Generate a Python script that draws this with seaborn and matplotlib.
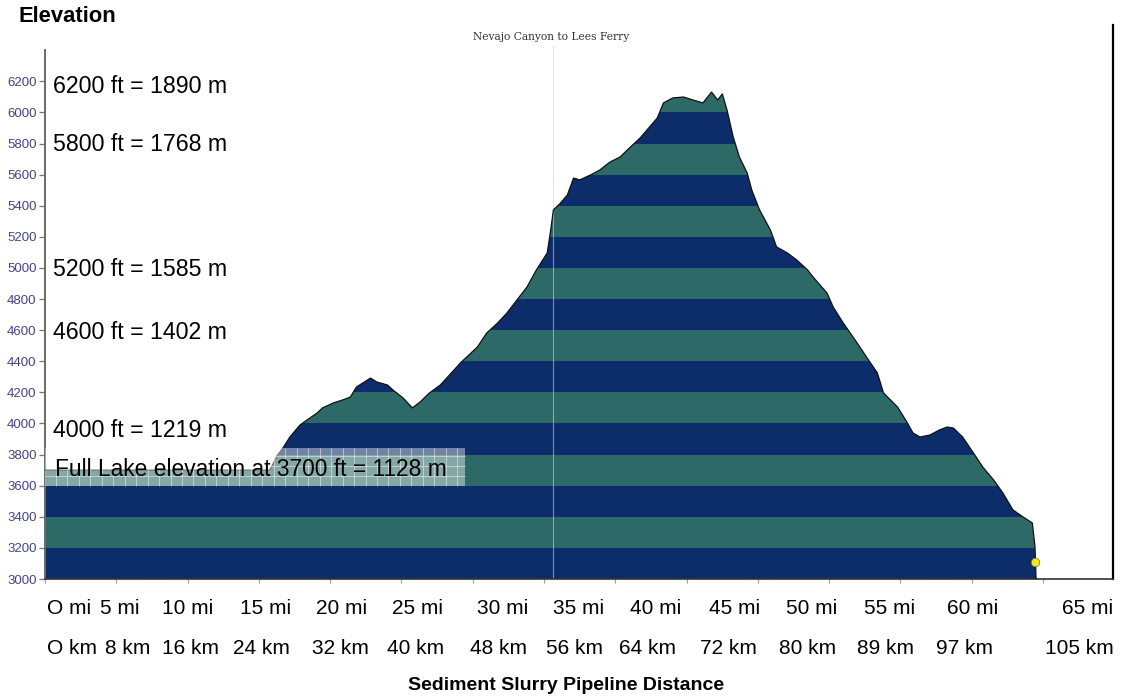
import numpy as np
import matplotlib
matplotlib.use('Agg')
import matplotlib.pyplot as plt
from matplotlib.patches import Polygon, Rectangle
import seaborn as sns

# elevation profile: distance (miles) vs elevation (feet)
distance_mi = [0.0, 14.5, 15.0, 15.35, 15.8, 16.45, 16.9, 17.55, 17.9, 18.6, 19.2, 19.7,
               20.1, 20.5, 21.0, 21.4, 22.1, 22.45, 23.1, 23.7, 24.2, 24.8, 25.5, 26.1,
               26.8, 27.9, 28.5, 29.2, 29.8, 30.45, 31.1, 31.7, 32.4, 32.6, 32.8, 33.2,
               33.7, 34.1, 34.5, 35.2, 35.8, 36.45, 37.1, 37.7, 38.4, 39.0, 39.5, 39.9,
               40.5, 41.2, 41.8, 42.45, 43.0, 43.4, 43.7, 44.0, 44.4, 44.8, 45.3, 45.6,
               46.1, 46.8, 47.2, 47.9, 48.5, 49.2, 49.55, 50.45, 50.85, 51.5, 52.4, 53.0,
               53.7, 54.1, 55.0, 55.6, 56.0, 56.45, 57.1, 57.7, 58.2, 58.6, 59.2, 59.9,
               60.5, 61.2, 61.8, 62.45, 63.1, 63.7, 63.87, 63.94]
elevation_ft = [3700, 3700, 3797, 3842, 3913, 3990, 4022, 4067, 4100, 4132, 4151, 4170,
                4235, 4260, 4292, 4267, 4247, 4215, 4164, 4100, 4138, 4196, 4247, 4312,
                4389, 4492, 4582, 4646, 4710, 4794, 4878, 4987, 5096, 5225, 5373, 5411,
                5469, 5578, 5566, 5598, 5630, 5681, 5713, 5771, 5836, 5906, 5964, 6061,
                6093, 6099, 6080, 6061, 6131, 6080, 6119, 6016, 5842, 5713, 5611, 5501,
                5373, 5244, 5135, 5096, 5051, 4987, 4942, 4839, 4749, 4646, 4517, 4427,
                4325, 4196, 4106, 4010, 3939, 3913, 3926, 3958, 3977, 3971, 3913, 3810,
                3720, 3637, 3553, 3444, 3399, 3360, 3206, 3000]

end_point_mi = [63.87]
end_point_ft = [3109]

lake_level_ft = 3700
band_colors = ['#0c2d6a', '#2d6a67']
band_edges = list(range(3000, 6400, 200))
ytick_values = list(range(3000, 6400, 200))

ft_notes = ['6200 ft = 1890 m', '5800 ft = 1768 m', '5200 ft = 1585 m',
            '4600 ft = 1402 m', '4000 ft = 1219 m']
lake_note = f'Full Lake elevation at {lake_level_ft} ft = 1128 m'
mi_labels = ['O mi', '5 mi', '10 mi', '15 mi', '20 mi', '25 mi', '30 mi', '35 mi',
             '40 mi', '45 mi', '50 mi', '55 mi', '60 mi', '65 mi']
km_labels = ['O km', '8 km', '16 km', '24 km', '32 km', '40 km', '48 km', '56 km',
             '64 km', '72 km', '80 km', '89 km', '97 km', '105 km']

# layout (pixels of the 1132x698 canvas)
W, H = 1132, 698
note_y_ft = [6164, 5791, 4987, 4588, 3958]
mi_left_px = [47, 100, 162, 240, 316, 392, 477, 553, 630, 709, 786, 864, 947, 1062]
km_left_px = [47, 105, 162, 233, 312, 387, 470, 546, 619, 700, 779, 857, 936, 1045]

sns.set_theme(style='white')
plt.rcParams['font.family'] = ['Liberation Sans', 'DejaVu Sans']
plt.rcParams['text.color'] = 'black'

fig = plt.figure(figsize=(W / 100, H / 100), dpi=100)
ax = fig.add_axes([45 / W, 119 / H, 1068 / W, 554 / H])
xmax = 1068 / 15.5
ax.set_xlim(0, xmax)
ax.set_ylim(3000, 6562)

# striped fill clipped to the profile
verts = np.column_stack([np.r_[distance_mi, distance_mi[::-1]],
                         np.r_[elevation_ft, np.full(len(elevation_ft), 3000)]])
clip = Polygon(verts, closed=True, transform=ax.transData)
for i, lo in enumerate(band_edges[:-1]):
    span = ax.axhspan(lo, lo + 200, color=band_colors[i % 2], lw=0, zorder=1)
    span.set_clip_path(clip)

sns.lineplot(x=distance_mi, y=elevation_ft, ax=ax, color='#111111', lw=0.9,
             sort=False, estimator=None, zorder=3)
sns.scatterplot(x=end_point_mi, y=end_point_ft, ax=ax, color='#f4e81c',
                edgecolor='#6b6b30', s=38, zorder=5)

ax.axvline((553 - 45) / 15.5, ymax=(6430 - 3000) / 3562, color='#cfcfcf',
           lw=0.8, alpha=0.6, zorder=2)

# lake label box
bx1 = (465 - 45) / 15.5
ax.add_patch(Rectangle((0, 3600), bx1, 242, facecolor='white', alpha=0.42,
                       lw=0, zorder=4))
ax.vlines(np.arange(0.7, bx1, 0.74), 3600, 3842, color='white', lw=0.6,
          alpha=0.55, zorder=4)
ax.hlines(np.arange(3664, 3842, 64), 0, bx1, color='white', lw=0.6,
          alpha=0.55, zorder=4)

tx = (53 - 45) / 15.5
for note, y in zip(ft_notes, note_y_ft):
    ax.text(tx, y, note, fontsize=16.7, ha='left', va='center', color='black', zorder=6)
ax.text((55 - 45) / 15.5, 3701, lake_note, fontsize=16.4, ha='left', va='center',
        color='black', zorder=6)

ax.set_yticks(ytick_values)
ax.set_yticklabels([str(v) for v in ytick_values], fontsize=9.5, color='#43438a')
ax.set_xticks(np.linspace(0, (1043 - 45) / 15.5, 15))
ax.set_xticklabels([])
ax.tick_params(axis='y', direction='out', length=4, width=0.9, color='#777777', pad=2, left=True)
ax.tick_params(axis='x', direction='out', length=3, width=0.8, color='#9a9ab8', bottom=True)
ax.grid(False)

ax.spines['top'].set_visible(False)
ax.spines['left'].set_bounds(3000, 6400)
ax.spines['left'].set_color('#6a6a6a')
ax.spines['left'].set_linewidth(1.4)
ax.spines['right'].set_color('black')
ax.spines['right'].set_linewidth(1.6)
ax.spines['bottom'].set_color('#333333')
ax.spines['bottom'].set_linewidth(1.2)

fig.text(18 / W, 1 - 17 / H, 'Elevation', fontsize=15.8, fontweight='bold',
         ha='left', va='center', color='black')
fig.text(551 / W, 1 - 37 / H, 'Nevajo Canyon to Lees Ferry', family='DejaVu Serif',
         fontsize=7.7, color='#333333', ha='center', va='center')

for lab, x in zip(mi_labels, mi_left_px):
    fig.text(x / W, 1 - 609 / H, lab, fontsize=15, ha='left', va='center', color='black')
for lab, x in zip(km_labels, km_left_px):
    fig.text(x / W, 1 - 648 / H, lab, fontsize=15, ha='left', va='center', color='black')
fig.text(566 / W, 1 - 686 / H, 'Sediment Slurry Pipeline Distance', fontsize=14,
         fontweight='bold', ha='center', va='center', color='black')

fig.savefig('out.png', dpi=100)
